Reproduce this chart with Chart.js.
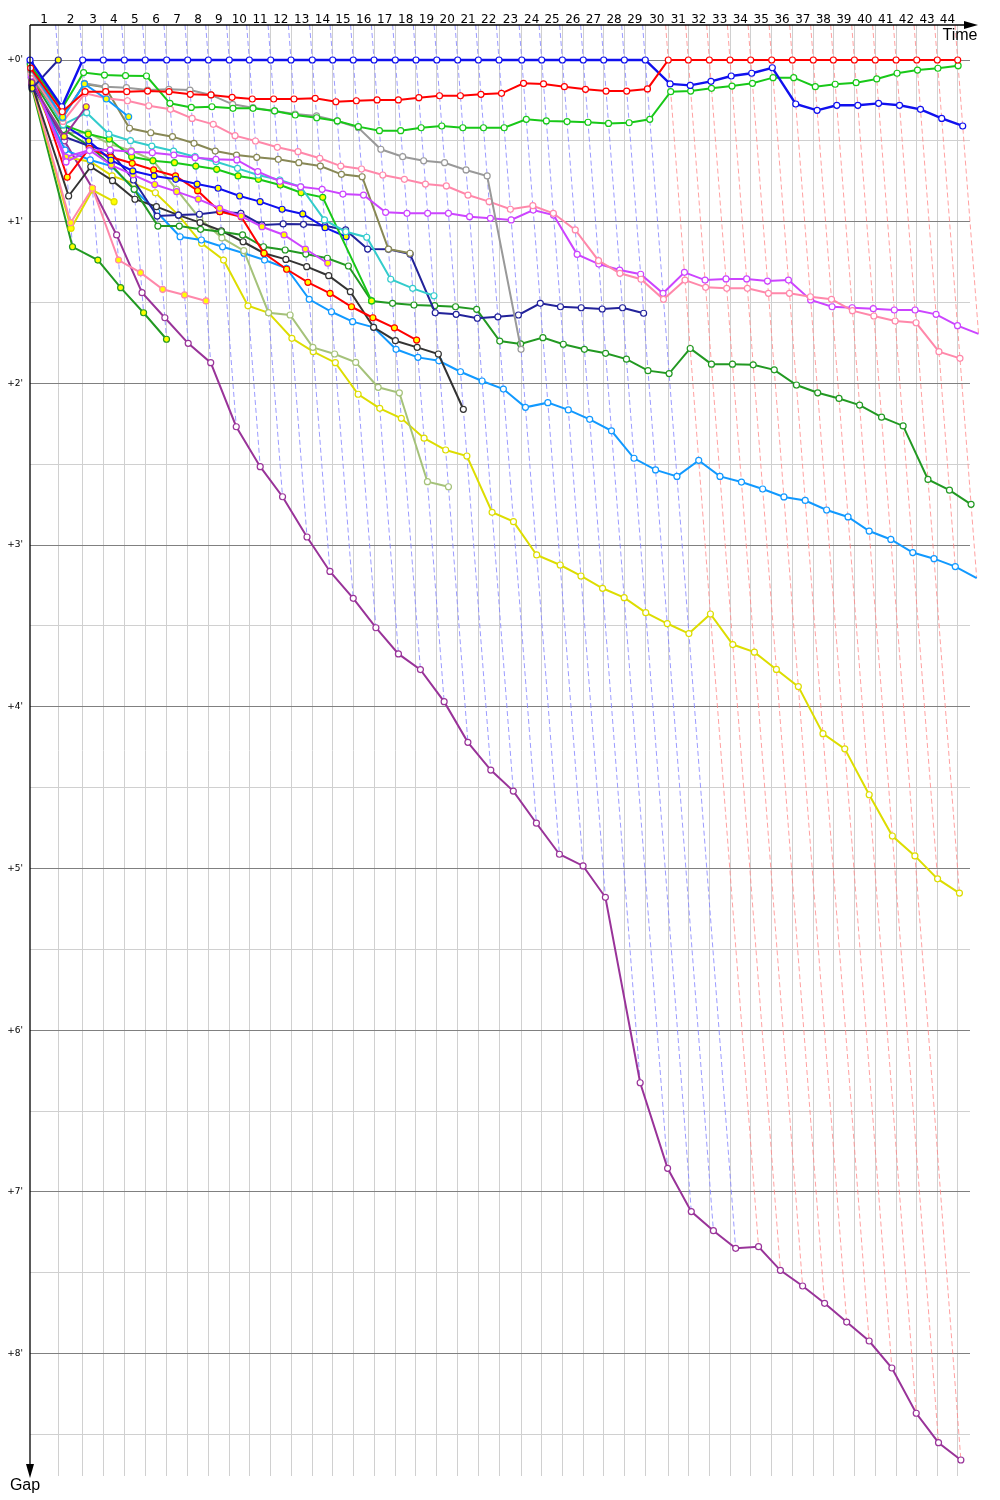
<!DOCTYPE html>
<html><head><meta charset="utf-8">
<script src="https://cdn.jsdelivr.net/npm/chart.js@4.4.0/dist/chart.umd.min.js"></script>
<style>html,body{margin:0;padding:0;background:#fff}#wrap{width:1000px;height:1500px}</style>
</head><body><div id="wrap"><canvas id="c" width="1000" height="1500"></canvas></div>
<script>
// ---- DATA (time and gaps in minutes) ----
const lapLabels = ['1','2','3','4','5','6','7','8','9','10','11','12','13','14','15','16','17','18','19','20','21','22','23','24','25','26','27','28','29','30','31','32','33','34','35','36','37','38','39','40','41','42','43','44'];
// leader's elapsed time at the end of each lap (index 0 = start)
const lapTimes = [0,2.30,4.28,5.96,7.67,9.37,11.11,12.82,14.50,16.20,17.83,19.57,21.22,22.95,24.61,26.28,27.97,29.70,31.38,33.07,34.77,36.45,38.13,39.98,41.60,43.28,44.98,46.64,48.32,50.02,51.89,53.52,55.23,56.91,58.59,60.30,61.98,63.68,65.31,67.02,68.72,70.41,72.09,73.76,75.42];
const gapTicks = [0,0.5,1,1.5,2,2.5,3,3.5,4,4.5,5,5.5,6,6.5,7,7.5,8,8.5];
// gap to leader at the end of each lap (index = lap, 0 = start)
const gapsBlue = [0,0.289,0,0,0,0,0,0,0,0,0,0,0,0,0,0,0,0,0,0,0,0,0,0,0,0,0,0,0,0,0.148,0.157,0.132,0.099,0.082,0.048,0.272,0.311,0.280,0.280,0.268,0.280,0.305,0.361,0.408];
const gapsRed = [0.05,0.32,0.196,0.196,0.196,0.192,0.196,0.212,0.216,0.231,0.241,0.241,0.241,0.237,0.258,0.252,0.247,0.247,0.233,0.221,0.221,0.212,0.206,0.144,0.148,0.165,0.181,0.192,0.192,0.179,0,0,0,0,0,0,0,0,0,0,0,0,0,0,0];
const gapsGreen = [0.03,0.30,0.078,0.093,0.097,0.099,0.268,0.293,0.289,0.299,0.299,0.315,0.340,0.357,0.377,0.412,0.437,0.437,0.419,0.408,0.419,0.419,0.419,0.367,0.377,0.381,0.385,0.392,0.388,0.367,0.196,0.192,0.175,0.161,0.144,0.109,0.109,0.165,0.150,0.140,0.117,0.082,0.062,0.051,0.035];
const gapsGrey = [0.06,0.36,0.144,0.165,0.171,0.186,0.181,0.186,0.216,0.274,0.295,0.315,0.334,0.346,0.377,0.419,0.552,0.598,0.623,0.635,0.680,0.717,1.789];
const gapsPink = [0.08,0.38,0.206,0.237,0.252,0.283,0.305,0.361,0.398,0.468,0.501,0.540,0.567,0.608,0.656,0.674,0.711,0.738,0.767,0.779,0.835,0.876,0.923,0.901,0.948,1.051,1.241,1.319,1.356,1.480,1.361,1.406,1.412,1.412,1.443,1.443,1.464,1.480,1.550,1.583,1.614,1.625,1.804,1.845];
const gapsMagenta = [0.10,0.63,0.56,0.557,0.567,0.573,0.588,0.604,0.614,0.618,0.69,0.75,0.784,0.800,0.829,0.835,0.942,0.948,0.948,0.948,0.969,0.979,0.989,0.928,0.959,1.202,1.262,1.299,1.325,1.443,1.313,1.361,1.354,1.354,1.367,1.361,1.484,1.526,1.532,1.538,1.546,1.546,1.573,1.643,1.694];
const gapsOlive = [0.12,0.35,0.148,0.169,0.422,0.450,0.474,0.515,0.563,0.588,0.602,0.614,0.635,0.656,0.707,0.722,1.169,1.195];
const gapsCyan = [0.09,0.40,0.326,0.458,0.499,0.532,0.563,0.598,0.629,0.670,0.711,0.742,0.784,0.989,1.062,1.096,1.356,1.412,1.458];
const gapsGreen2 = [0.07,0.40,0.458,0.489,0.598,0.623,0.635,0.656,0.676,0.717,0.738,0.773,0.821,0.849,null,1.490];
const gapsForest = [0.11,0.43,0.53,0.65,0.80,1.027,1.027,1.047,1.062,1.082,1.155,1.175,1.200,1.226,1.274,1.490,1.505,1.515,1.519,1.526,1.542,1.738,1.756,1.717,1.758,1.789,1.814,1.85,1.921,1.939,1.784,1.881,1.881,1.885,1.916,2.010,2.058,2.093,2.134,2.209,2.263,2.594,2.660,2.748];
const gapsBlack = [0.15,0.841,0.660,0.746,0.861,0.907,0.959,1.006,1.056,1.124,1.195,1.233,1.278,1.334,1.433,1.653,1.736,1.777,1.818,2.160];
const gapsSky = [0.13,0.557,0.618,0.656,0.80,0.94,1.093,1.113,1.155,1.195,1.237,1.288,1.480,1.557,1.618,1.653,1.789,1.839,1.860,1.928,1.985,2.035,2.148,2.119,2.164,2.222,2.293,2.463,2.535,2.575,2.476,2.575,2.610,2.653,2.702,2.724,2.783,2.826,2.913,2.965,3.046,3.084,3.133,3.204];
const gapsYellow = [0.14,0.60,0.629,0.717,0.763,0.821,0.959,1.134,1.237,1.520,1.563,1.721,1.804,1.872,2.067,2.154,2.216,2.339,2.412,2.449,2.797,2.855,3.061,3.123,3.191,3.267,3.325,3.418,3.485,3.547,3.426,3.615,3.662,3.769,3.875,4.166,4.260,4.544,4.799,4.922,5.064,5.152];
const gapsPurple = [0.17,0.50,0.793,1.082,1.439,1.594,1.752,1.872,2.268,2.515,2.701,2.950,3.163,3.329,3.511,3.673,3.770,3.968,4.220,4.391,4.521,4.720,4.912,4.984,5.178,6.325,6.854,7.122,7.240,7.349,7.339,7.485,7.582,7.689,7.805,7.922,8.089,8.369,8.551,8.658];
const gapsNavy = [0.16,0.474,0.532,0.567,0.742,0.965,0.959,0.954,0.938,0.948,1.020,1.014,1.016,1.025,1.051,1.169,1.171,1.200,1.563,1.573,1.597,1.588,1.577,1.505,1.526,1.532,1.540,1.532,1.566];
const gapsLime = [0.18,0.45,0.45,0.52,0.56,0.62,0.80,0.98,1.10,1.179,1.563,1.577,1.777,1.818,1.870,2.024,2.058,2.608,2.639];
const gapsRed2 = [0.04,0.725,0.546,0.60,0.639,0.680,0.717,0.808,0.938,0.969,1.195,1.294,1.375,1.443,1.526,1.594,1.656,1.732];
const gapsViolet2 = [0.11,0.60,0.557,0.65,0.71,0.77,0.814,0.860,0.917,0.965,1.031,1.082,1.169,1.257];
const gapsBlue2 = [0.02,0.40,0.50,0.62,0.686,0.717,0.738,0.767,0.793,0.841,0.876,0.923,0.952,1.037,1.093];
const gapsPink2 = [0.15,1.006,0.793,1.237,1.315,1.418,1.453,1.490];
const gapsYellow2 = [0.16,1.041,0.804,0.876];
const gapsForest2 = [0.18,1.155,1.237,1.408,1.563,1.727];
const gapsSky2 = [0.05,0.354,0.148,0.241,0.351];
const gapsPurple2 = [0.14,0.474,0.289];
const gapsNavy2 = [0.175,0];

// ---- STYLES ----
const SERIES = [
  {g:gapsRed, c:'#ff0000', f:'#ffffff', w:2},
  {g:gapsBlue, c:'#1010ee', f:'#ffffff', w:2.4},
  {g:gapsGreen, c:'#18c818', f:'#ffffff', w:2},
  {g:gapsNavy2, c:'#22229a', f:'#ffff00', w:2},
  {g:gapsSky2, c:'#1199ff', f:'#ffff00', w:2},
  {g:gapsPurple2, c:'#993399', f:'#ffff00', w:2},
  {g:gapsGrey, c:'#999999', f:'#ffffff', w:2},
  {g:gapsPink, c:'#ff88aa', f:'#ffffff', w:2},
  {g:gapsMagenta, c:'#cc44ff', f:'#ffffff', w:2},
  {g:gapsOlive, c:'#888855', f:'#ffffff', w:2},
  {g:gapsCyan, c:'#33cccc', f:'#ffffff', w:2},
  {g:gapsGreen2, c:'#18c818', f:'#ffff00', w:2},
  {g:gapsBlue2, c:'#1010ee', f:'#ffff00', w:2},
  {g:gapsViolet2, c:'#cc44ff', f:'#ffff00', w:2},
  {g:gapsRed2, c:'#ff0000', f:'#ffff00', w:2},
  {g:gapsNavy, c:'#22229a', f:'#ffffff', w:2},
  {g:gapsForest, c:'#229922', f:'#ffffff', w:2},
  {g:gapsBlack, c:'#333333', f:'#ffffff', w:2},
  {g:gapsLime, c:'#a5c27a', f:'#ffffff', w:2},
  {g:gapsSky, c:'#1199ff', f:'#ffffff', w:2},
  {g:gapsYellow, c:'#dddd00', f:'#ffffff', w:2},
  {g:gapsPink2, c:'#ff88aa', f:'#ffff00', w:2},
  {g:gapsYellow2, c:'#dddd00', f:'#ffff00', w:2},
  {g:gapsForest2, c:'#229922', f:'#ffff00', w:2},
  {g:gapsPurple, c:'#993399', f:'#ffffff', w:2}
];

const Y_MIN = -0.2165, Y_MAX = 8.757, X_MIN = 0, X_MAX = 76.42;

function toPoints(g){
  const out = [];
  g.forEach((v, n) => { if (v !== null && v !== undefined) out.push({x: lapTimes[n] + v, y: v}); });
  return out;
}

const datasets = SERIES.map(s => ({
  data: toPoints(s.g), showLine: true, borderColor: s.c, borderWidth: s.w,
  pointRadius: 3, pointBorderWidth: 1.2, pointBorderColor: s.c, pointBackgroundColor: s.f,
  pointHoverRadius: 3, clip: 20, order: 1, tension: 0
}));

// lap lines: join every car's point of the same lap
for (let n = 1; n < lapTimes.length; n++) {
  let maxG = 0;
  SERIES.forEach(s => { const v = s.g[n]; if (v !== null && v !== undefined && v > maxG) maxG = v; });
  const redLeads = gapsRed[n] === 0;
  datasets.push({
    data: [{x: lapTimes[n] + Y_MIN, y: Y_MIN}, {x: lapTimes[n] + maxG, y: maxG}],
    showLine: true, borderColor: redLeads ? 'rgba(255,130,130,0.75)' : 'rgba(130,130,255,0.8)',
    borderWidth: 1, borderDash: [5, 3], pointRadius: 0, clip: 20, order: 10
  });
}

const axisArrows = {
  id: 'axisArrows',
  afterDraw(chart) {
    const {ctx, chartArea: a} = chart;
    ctx.save();
    ctx.strokeStyle = '#000'; ctx.fillStyle = '#000'; ctx.lineWidth = 1.3;
    ctx.beginPath(); ctx.moveTo(a.left, a.top); ctx.lineTo(a.right - 2, a.top); ctx.stroke();
    ctx.beginPath(); ctx.moveTo(a.right + 8, a.top); ctx.lineTo(a.right - 6, a.top - 4); ctx.lineTo(a.right - 6, a.top + 4); ctx.closePath(); ctx.fill();
    ctx.beginPath(); ctx.moveTo(a.left, a.top); ctx.lineTo(a.left, a.bottom - 8); ctx.stroke();
    ctx.beginPath(); ctx.moveTo(a.left, a.bottom + 2); ctx.lineTo(a.left - 4, a.bottom - 12); ctx.lineTo(a.left + 4, a.bottom - 12); ctx.closePath(); ctx.fill();
    ctx.font = '16px "Liberation Sans", sans-serif';
    ctx.textAlign = 'center'; ctx.textBaseline = 'middle';
    ctx.fillText('Time', a.right - 10, a.top + 11);
    ctx.fillText('Gap', a.left - 5, a.bottom + 10);
    ctx.restore();
  }
};

Chart.defaults.font.family = '"DejaVu Sans", sans-serif';
new Chart(document.getElementById('c'), {
  type: 'scatter',
  data: {datasets},
  options: {
    responsive: false, animation: false, devicePixelRatio: 1,
    layout: {padding: {left: 0, right: 30, top: 0, bottom: 24}},
    plugins: {legend: {display: false}, tooltip: {enabled: false}},
    scales: {
      x: {
        type: 'linear', position: 'bottom', min: X_MIN, max: X_MAX,
        afterBuildTicks: s => { s.ticks = lapTimes.slice(1).map(v => ({value: v})); },
        afterFit: s => { s.height = 0; },
        ticks: {display: false},
        grid: {color: '#d0d0d0', lineWidth: 1, drawTicks: false},
        border: {display: false}
      },
      xt: {
        type: 'linear', position: 'top', min: X_MIN, max: X_MAX,
        afterBuildTicks: s => { s.ticks = lapLabels.map((l, i) => ({value: (lapTimes[i] + lapTimes[i + 1]) / 2})); },
        afterFit: s => { s.height = 25; },
        ticks: {autoSkip: false, maxRotation: 0, minRotation: 0, padding: -2, color: '#000',
                font: {size: 12}, callback: (v, i) => lapLabels[i]},
        grid: {display: false, drawTicks: false},
        border: {display: false}
      },
      y: {
        type: 'linear', position: 'left', reverse: true, min: Y_MIN, max: Y_MAX,
        afterBuildTicks: s => { s.ticks = gapTicks.map(v => ({value: v})); },
        afterFit: s => { s.width = 30; },
        ticks: {autoSkip: false, padding: 7, color: '#000', font: {size: 9},
                callback: v => (Math.abs(v - Math.round(v)) < 1e-6 ? "+" + Math.round(v) + "'" : '')},
        grid: {drawTicks: false, lineWidth: 1,
               color: c => (Math.abs(c.tick.value - Math.round(c.tick.value)) < 1e-6 ? '#808080' : '#d0d0d0')},
        border: {display: false}
      }
    }
  },
  plugins: [axisArrows]
});
</script>
</body></html>
